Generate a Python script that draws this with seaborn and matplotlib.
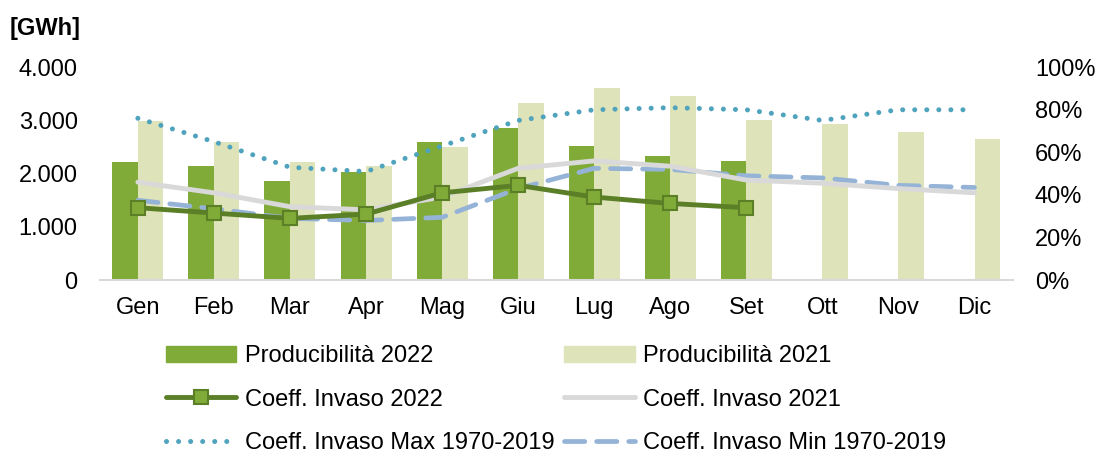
import numpy as np
import pandas as pd
import seaborn as sns
import matplotlib.pyplot as plt
from matplotlib.ticker import FuncFormatter
from matplotlib.patches import Patch
from matplotlib.lines import Line2D

months = ["Gen", "Feb", "Mar", "Apr", "Mag", "Giu", "Lug", "Ago", "Set", "Ott", "Nov", "Dic"]

# GWh
prod_2022 = [2210, 2140, 1860, 2030, 2590, 2850, 2520, 2330, 2230, np.nan, np.nan, np.nan]
prod_2021 = [2990, 2590, 2210, 2140, 2500, 3320, 3600, 3450, 3000, 2940, 2780, 2650]

# coefficient (%)
coeff_2022 = [34, 31.5, 29, 31, 41, 44.5, 39, 36, 34, np.nan, np.nan, np.nan]
coeff_2021 = [46, 41, 34.5, 33, 39, 52.5, 56, 53.5, 47, 45.5, 43, 41]
coeff_max = [76, 65, 53, 51, 63, 75, 80, 81, 80, 75, 80, 80]
coeff_min = [37.5, 33.5, 29, 28, 29.5, 43, 52.5, 52, 49, 48, 44.5, 43.5]

c_p22 = "#80AB38"
c_p21 = "#DEE3B9"
c_c22 = "#5B7F27"
c_c21 = "#D9D9D9"
c_max = "#4FA3BD"
c_min = "#95B3D7"
FS = 17

sns.set_style("white")
plt.rcParams["font.family"] = ["Liberation Sans", "DejaVu Sans"]
plt.rcParams["text.color"] = "black"
plt.rcParams["xtick.color"] = "black"
plt.rcParams["ytick.color"] = "black"

fig = plt.figure(figsize=(10.97, 4.54), dpi=100)
ax = fig.add_axes([0.091, 0.383, 0.832, 0.469])

bars = pd.DataFrame({
    "mese": months * 2,
    "serie": ["Producibilità 2022"] * 12 + ["Producibilità 2021"] * 12,
    "GWh": prod_2022 + prod_2021,
})
sns.barplot(data=bars, x="mese", y="GWh", hue="serie", order=months,
            palette=[c_p22, c_p21], width=0.67, ax=ax, legend=False,
            saturation=1, linewidth=0)
ax.set_ylim(0, 4000)
ax.set_xlim(-0.5, 11.5)
ax.set_yticks([0, 1000, 2000, 3000, 4000])
ax.yaxis.set_major_formatter(FuncFormatter(lambda v, p: f"{int(v):,}".replace(",", ".")))
ax.set_xlabel("")
ax.set_ylabel("")
for s in ["top", "left", "right"]:
    ax.spines[s].set_visible(False)
ax.spines["bottom"].set_color("#D9D9D9")
ax.spines["bottom"].set_linewidth(1.5)
ax.tick_params(axis="x", length=0, pad=12.5, labelsize=FS)
ax.tick_params(axis="y", length=0, pad=16, labelsize=FS)

max_style = dict(lw=3.6, linestyle=(0, (0.01, 2.4)), dash_capstyle="round")
min_style = dict(lw=3.4, linestyle=(0, (4.3, 2.5)), dash_capstyle="round")

ax2 = ax.twinx()
x = np.arange(len(months))
sns.lineplot(x=x, y=coeff_max, ax=ax2, color=c_max, **max_style)
sns.lineplot(x=x, y=coeff_min, ax=ax2, color=c_min, **min_style)
sns.lineplot(x=x, y=coeff_2021, ax=ax2, color=c_c21, lw=3.5)
sns.lineplot(x=x, y=coeff_2022, ax=ax2, color=c_c22, lw=3.5,
             marker="s", markersize=10, markerfacecolor=c_p22,
             markeredgecolor=c_c22, markeredgewidth=1.5)
ax2.set_ylim(0, 100)
ax2.set_yticks([0, 20, 40, 60, 80, 100])
ax2.yaxis.set_major_formatter(FuncFormatter(lambda v, p: f"{int(v)}%"))
ax2.tick_params(axis="y", length=0, pad=16, labelsize=FS)
for s in ["top", "left", "right", "bottom"]:
    ax2.spines[s].set_visible(False)

fig.text(0.009, 0.938, "[GWh]", fontsize=FS, fontweight="bold", va="center")

h = [
    Patch(color=c_p22, label="Producibilità 2022"),
    Line2D([], [], color=c_c22, lw=3.5, marker="s", markersize=10,
           markerfacecolor=c_p22, markeredgecolor=c_c22, markeredgewidth=1.5,
           label="Coeff. Invaso 2022"),
    Line2D([], [], color=c_max, label="Coeff. Invaso Max 1970-2019", **max_style),
    Patch(color=c_p21, label="Producibilità 2021"),
    Line2D([], [], color=c_c21, lw=3.5, label="Coeff. Invaso 2021"),
    Line2D([], [], color=c_min, label="Coeff. Invaso Min 1970-2019", **min_style),
]
fig.legend(handles=h, ncol=2, loc="upper left", bbox_to_anchor=(0.151, 0.239),
           frameon=False, fontsize=FS, handlelength=3.0, handleheight=0.7,
           handletextpad=0.35, columnspacing=0.4, labelspacing=0.9,
           borderaxespad=0, borderpad=0)

fig.savefig("out.png", dpi=100)
